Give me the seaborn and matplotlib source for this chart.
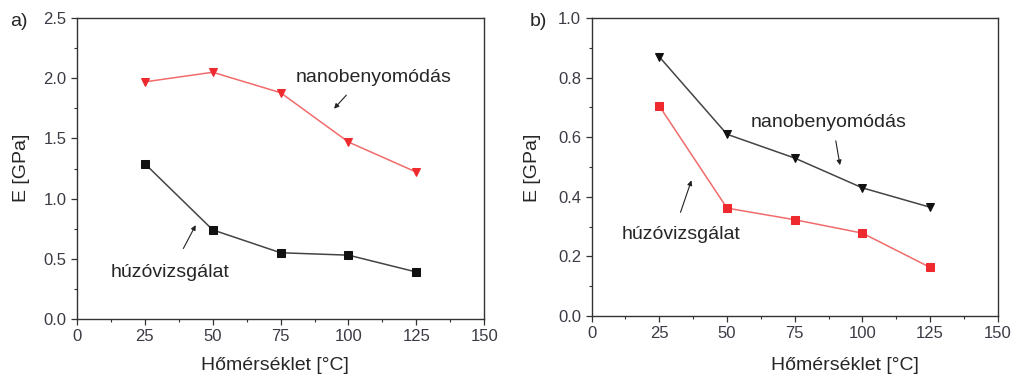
import matplotlib
matplotlib.use("Agg")
import matplotlib.pyplot as plt
import seaborn as sns
import pandas as pd
from matplotlib.ticker import MultipleLocator, FormatStrFormatter

sns.set_style("ticks")
plt.rcParams['font.family'] = ['Liberation Sans', 'DejaVu Sans']

temps = [25, 50, 75, 100, 125]
# panel a
a_nano = [1.97, 2.05, 1.88, 1.47, 1.22]
a_huzo = [1.29, 0.74, 0.55, 0.53, 0.39]
# panel b
b_nano = [0.87, 0.61, 0.53, 0.43, 0.365]
b_huzo = [0.705, 0.362, 0.323, 0.278, 0.163]

xlabel = "Hőmérséklet [°C]"
ylabel = "E [GPa]"
lab_nano = "nanobenyomódás"
lab_huzo = "húzóvizsgálat"

RED = "#ee2a2f"
REDLINE = "#f26b6b"
BLK = "#111111"
BLKLINE = "#444444"
TICKC = "#3b3b45"

fig = plt.figure(figsize=(10.13, 3.77), dpi=100)
axA = fig.add_axes([0.076, 0.154, 0.402, 0.798])
axB = fig.add_axes([0.584, 0.162, 0.401, 0.790])

def series(ax, y, marker, mcol, lcol, ms):
    df = pd.DataFrame({"T": temps, "E": y})
    sns.lineplot(data=df, x="T", y="E", ax=ax, color=lcol, lw=1.1,
                 marker=marker, markersize=ms, markerfacecolor=mcol,
                 markeredgecolor=mcol, legend=False)

series(axA, a_nano, "v", RED, REDLINE, 6)
series(axA, a_huzo, "s", BLK, BLKLINE, 5.5)
series(axB, b_nano, "v", BLK, BLKLINE, 6)
series(axB, b_huzo, "s", RED, REDLINE, 5.5)

def style(ax, ymax, ymaj, ymin):
    ax.set_xlim(0, 150)
    ax.set_ylim(0, ymax)
    ax.xaxis.set_major_locator(MultipleLocator(25))
    ax.xaxis.set_minor_locator(MultipleLocator(12.5))
    ax.yaxis.set_major_locator(MultipleLocator(ymaj))
    ax.yaxis.set_minor_locator(MultipleLocator(ymin))
    ax.yaxis.set_major_formatter(FormatStrFormatter('%.1f'))
    ax.tick_params(which='major', direction='out', length=4, width=0.9,
                   labelsize=12, labelcolor=TICKC, color="#333333")
    ax.tick_params(which='minor', direction='out', length=2.5, width=0.8, color="#333333")
    for s in ax.spines.values():
        s.set_visible(True)
        s.set_color("#333333")
        s.set_linewidth(1.0)
    ax.set_xlabel("")
    ax.set_ylabel("")

style(axA, 2.5, 0.5, 0.25)
style(axB, 1.0, 0.2, 0.1)

# axis labels
fig.text(275/1013, 1 - 365/377, xlabel, ha='center', va='center', fontsize=14)
fig.text(845/1013, 1 - 365/377, xlabel, ha='center', va='center', fontsize=14)
fig.text(22/1013, 1 - 168/377, ylabel, ha='center', va='center', fontsize=14, rotation=90)
fig.text(532/1013, 1 - 168/377, ylabel, ha='center', va='center', fontsize=14, rotation=90)
fig.text(10/1013, 1 - 22/377, "a)", ha='left', va='center', fontsize=14)
fig.text(530/1013, 1 - 22/377, "b)", ha='left', va='center', fontsize=14)

arrow = dict(arrowstyle="-|>", color="#222222", lw=0.8, mutation_scale=7)
axA.text(80.7, 2.01, lab_nano, fontsize=14, va='center', ha='left')
axA.annotate("", xy=(94, 1.73), xytext=(99.9, 1.877), arrowprops=arrow)
axA.text(12.5, 0.39, lab_huzo, fontsize=14, va='center', ha='left')
axA.annotate("", xy=(44.2, 0.80), xytext=(38.7, 0.565), arrowprops=arrow)

axB.text(58.6, 0.651, lab_nano, fontsize=14, va='center', ha='left')
axB.annotate("", xy=(91.9, 0.497), xytext=(90.0, 0.597), arrowprops=arrow)
axB.text(11.0, 0.272, lab_huzo, fontsize=14, va='center', ha='left')
axB.annotate("", xy=(37.2, 0.464), xytext=(32.5, 0.339), arrowprops=arrow)

fig.savefig("out.png", dpi=100)
